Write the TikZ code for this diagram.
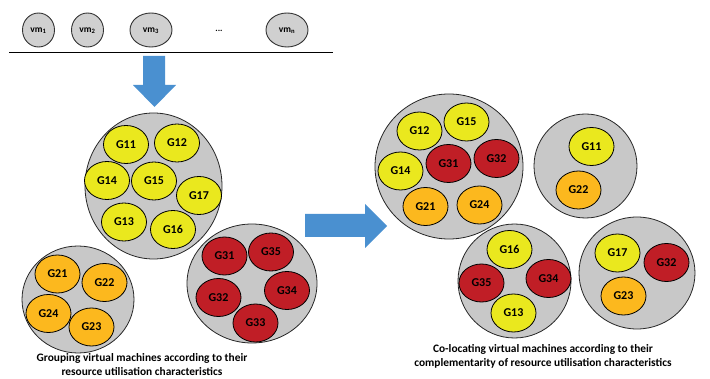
\documentclass[tikz,border=0pt]{standalone}
\usepackage{fontspec}
\setmainfont{Carlito}[BoldFont={Carlito Bold}]
\usetikzlibrary{shapes.geometric}
\definecolor{grayfill}{RGB}{200,200,200}
\definecolor{vmgray}{RGB}{208,208,208}
\definecolor{yel}{RGB}{234,232,30}
\definecolor{ora}{RGB}{252,184,30}
\definecolor{redc}{RGB}{192,30,38}
\definecolor{arrblue}{RGB}{74,144,208}
\tikzset{
  group/.style={ellipse, draw=black!85, line width=0.8pt, fill=grayfill, inner sep=0pt},
  vmshape/.style={draw=black!80, line width=0.9pt, fill=vmgray},
  vmtext/.style={inner sep=0pt, font=\bfseries\fontsize{9.5}{10}\selectfont},
  gbox/.style={ellipse, draw=black, line width=0.8pt, inner sep=0pt, minimum width=45pt, minimum height=38pt, font=\bfseries\fontsize{12}{13}\selectfont},
  gy/.style={gbox, fill=yel},
  go/.style={gbox, fill=ora},
  gr/.style={gbox, fill=redc},
  caption/.style={align=center, font=\bfseries\fontsize{11.4}{14}\selectfont},
  bigarrow/.style={fill=arrblue, draw=none}
}
\begin{document}
\begin{tikzpicture}[x=1pt,y=-1pt]
\useasboundingbox (0,0) rectangle (710,379);
% top row of VMs
\draw[vmshape] (38.5,30) ellipse [x radius=16pt, y radius=17pt];
\draw[vmshape] (87.5,30) ellipse [x radius=16pt, y radius=17pt];
\draw[vmshape] (151,30) ellipse [x radius=21pt, y radius=17pt];
\draw[vmshape] (287,30) ellipse [x radius=21pt, y radius=17pt];
\node[vmtext] (vm1) at (38.5,30.5) {vm\textsubscript{1}};
\node[vmtext] (vm2) at (87.5,30.5) {vm\textsubscript{2}};
\node[vmtext] (vm3) at (151,30.5) {vm\textsubscript{3}};
\node[font=\bfseries\fontsize{9}{10}\selectfont] (dots) at (219,31) {...};
\node[vmtext] (vmn) at (287,30.5) {vm\textsubscript{n}};
\coordinate (lineL) at (9,52.5);
\coordinate (lineR) at (333,52.5);
\draw[line width=1.3pt] (lineL) -- (lineR);
% down arrow
\fill[bigarrow] (143,56) -- (165,56) -- (165,85) -- (176,85) -- (154.5,107) -- (133,85) -- (143,85) -- cycle;
% right arrow
\fill[bigarrow] (305,214) -- (365,214) -- (365,204) -- (387,226) -- (365,248) -- (365,237) -- (305,237) -- cycle;

% group 1
\node[group, minimum width=137pt, minimum height=146pt] (c1) at (153.5,186) {};
\node[gy] (g11) at (126,144.5) {G11};
\node[gy] (g12) at (177,143) {G12};
\node[gy] (g14) at (107,180.5) {G14};
\node[gy] (g15) at (154,181) {G15};
\node[gy] (g17) at (199,195.5) {G17};
\node[gy] (g13) at (124,222) {G13};
\node[gy] (g16) at (173,229.5) {G16};

% group 2
\node[group, minimum width=112pt, minimum height=107pt] (c2) at (78,299.5) {};
\node[go] (g21) at (57.5,274) {G21};
\node[go] (g22) at (104.5,282.5) {G22};
\node[go] (g24) at (48.5,313.5) {G24};
\node[go] (g23) at (91.5,327) {G23};

% group 3
\node[group, minimum width=130pt, minimum height=119pt] (c3) at (252,283.5) {};
\node[gr] (g31) at (224.5,256) {G31};
\node[gr] (g35) at (271,252) {G35};
\node[gr] (g32) at (218.5,297.5) {G32};
\node[gr] (g34) at (287,290.5) {G34};
\node[gr] (g33) at (255.5,323) {G33};

\node[caption] (capL) at (142,364.5) {Grouping virtual machines according to their\\resource utilisation characteristics};

% right side: server A
\node[group, minimum width=148pt, minimum height=145pt] (sA) at (449,166.5) {};
\node[gy] (a12) at (419.5,131) {G12};
\node[gy] (a15) at (466.5,122) {G15};
\node[gy] (a14) at (400.5,171) {G14};
\node[gr] (a31) at (448.5,163.5) {G31};
\node[gr] (a32) at (496.5,158.5) {G32};
\node[go] (a21) at (425.5,206.5) {G21};
\node[go] (a24) at (479.5,205) {G24};

% server B
\node[group, minimum width=103pt, minimum height=104pt] (sB) at (585.5,166) {};
\node[gy] (b11) at (591.5,146.5) {G11};
\node[go] (b22) at (578.5,190) {G22};

% server C
\node[group, minimum width=113pt, minimum height=114pt] (sC) at (514.5,281) {};
\node[gy] (c16) at (509.5,249.5) {G16};
\node[gr] (c35) at (481.5,283) {G35};
\node[gr] (c34) at (548.5,278.5) {G34};
\node[gy] (c13) at (513.5,313) {G13};

% server D
\node[group, minimum width=116pt, minimum height=112pt] (sD) at (637,273) {};
\node[gy] (d17) at (617.5,253) {G17};
\node[gr] (d32) at (666.5,262.5) {G32};
\node[go] (d23) at (623.5,296) {G23};

\node[caption] (capR) at (543,356.5) {Co-locating virtual machines according to their\\complementarity of resource utilisation characteristics};
\end{tikzpicture}
\end{document}
